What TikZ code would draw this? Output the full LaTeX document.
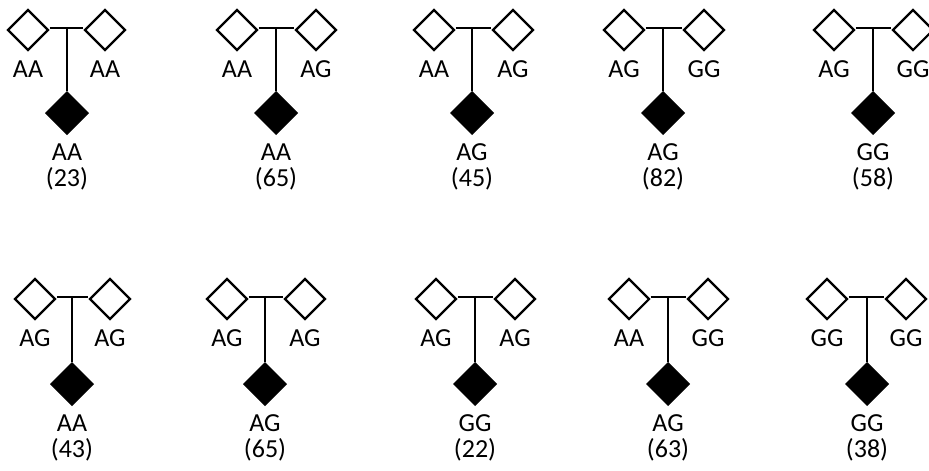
\documentclass[tikz,border=0pt]{standalone}
\usepackage{fontspec}
\setmainfont{Carlito}
\usetikzlibrary{shapes.geometric}
\begin{document}
\begin{tikzpicture}[x=1pt,y=-1pt,
  parent/.style={diamond,draw=black,line width=2.2pt,fill=white,minimum size=41pt,inner sep=0pt},
  child/.style={diamond,draw=black,fill=black,line width=1pt,minimum size=43pt,inner sep=0pt},
  gt/.style={font=\fontsize{26}{30}\selectfont,inner sep=0pt},
  link/.style={line width=1.1pt}]
\useasboundingbox (0,0) rectangle (929,471);
\clip (0,0) rectangle (929,471);
\foreach \n/\cx/\lx/\rx/\py/\cy/\a/\b/\c/\d in {
  1/67/28/105/30/113/AA/AA/AA/23,
  2/276/237/316/30/113/AA/AG/AA/65,
  3/472/434/513/30/113/AA/AG/AG/45,
  4/663/624/704/30/113/AG/GG/AG/82,
  5/873/834/913/30/113/AG/GG/GG/58,
  6/72/35/110/299/384/AG/AG/AA/43,
  7/265/227/305/299/384/AG/AG/AG/65,
  8/475/436/515/299/384/AG/AG/GG/22,
  9/668/629/708/299/384/AA/GG/AG/63,
  10/867/827/906/299/384/GG/GG/GG/38}{
  \node[parent] (L\n) at (\lx,\py) {};
  \node[parent] (R\n) at (\rx,\py) {};
  \node[child] (C\n) at (\cx,\cy) {};
  \coordinate (M\n) at (\cx,\py-2);
  \draw[link] ([yshift=2pt]L\n.east) -- ([yshift=2pt]R\n.west);
  \draw[link] (M\n) -- (C\n.north);
  \node[gt] (LA\n) at (\lx,\py+39) {\a};
  \node[gt] (RA\n) at (\rx,\py+39) {\b};
  \node[gt] (CA\n) at (\cx,\cy+39) {\c};
  \node[gt] (CN\n) at (\cx,\cy+66) {(\d)};
}
\end{tikzpicture}
\end{document}
